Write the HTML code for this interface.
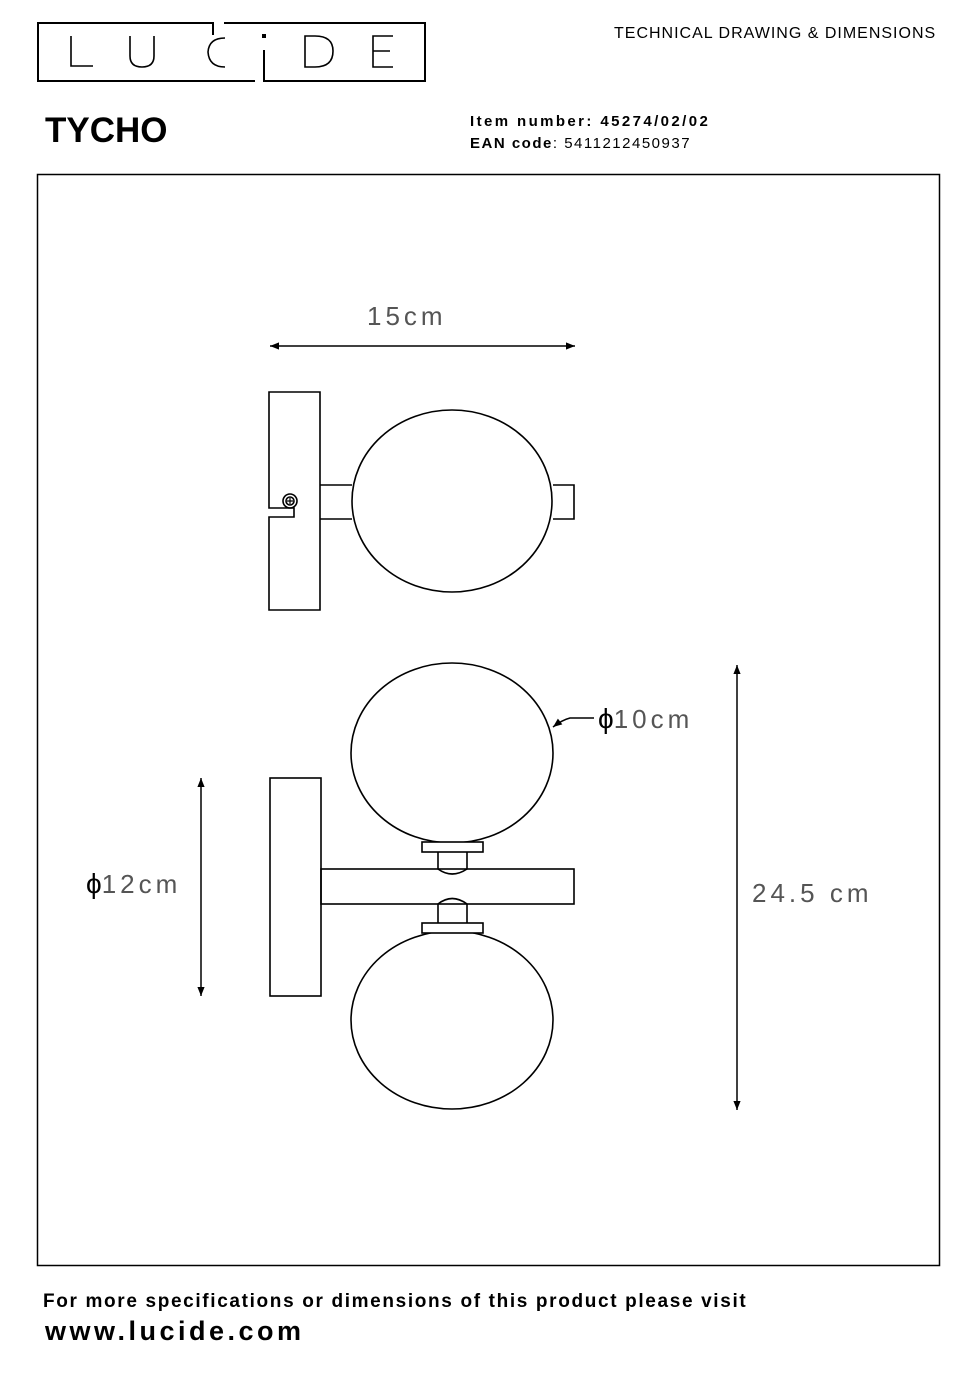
<!DOCTYPE html>
<html><head><meta charset="utf-8"><style>
html,body{margin:0;padding:0;background:#fff;}
body{width:970px;height:1374px;position:relative;overflow:hidden;font-family:"Liberation Sans",sans-serif;}
.t{position:absolute;white-space:nowrap;color:#000;}
.d{font-size:26px;color:#555;letter-spacing:4px;}
</style></head><body>
<svg width="970" height="1374" style="position:absolute;left:0;top:0" xmlns="http://www.w3.org/2000/svg">
<defs>
<marker id="a" viewBox="0 0 10 10" refX="10" refY="5" markerWidth="20" markerHeight="9" markerUnits="userSpaceOnUse" orient="auto-start-reverse"><path d="M0,1 L10,5 L0,9 Z" fill="#000"/></marker>
</defs>
<g fill="none" stroke="#000" stroke-width="2">
<path d="M213,35 L213,23 L38,23 L38,81 L255,81"/>
<path d="M224,23 L425,23 L425,81 L264,81 L264,50"/>
</g>
<g fill="none" stroke="#000" stroke-width="1.6">
<path d="M71,36 L71,66 L93,66"/>
<path d="M130,36 L130,56 Q130,67 142,67 Q154,67 154,56 L154,36"/>
<path d="M225,38 Q209,38 208,52 Q209,67 225,67"/>
<path d="M305,36 L305,67 L315,67 Q333,67 333,51 Q333,36 315,36 Z"/>
<path d="M393,36 L373,36 L373,67 L393,67 M373,51 L390,51"/>
</g>
<rect x="262" y="34" width="4" height="4" fill="#000"/>
<rect x="37.5" y="174.5" width="902" height="1091" fill="none" stroke="#000" stroke-width="1.5"/>
<g fill="none" stroke="#000" stroke-width="1.6">
<path d="M269,392 L320,392 L320,610 L269,610 L269,517 L294,517 L294,508 L269,508 Z"/>
<circle cx="290" cy="501" r="7"/>
<circle cx="290" cy="501" r="4"/>
<path d="M287,501 h6 M290,498 v6" stroke-width="1.2"/>
<path d="M320,485 L352,485 M320,519 L352,519"/>
<ellipse cx="452" cy="501" rx="100" ry="91" fill="#fff"/>
<path d="M553,485 L574,485 L574,519 L553,519"/>
<rect x="270" y="778" width="51" height="218"/>
<rect x="321" y="869" width="253" height="35"/>
<ellipse cx="452" cy="753" rx="101" ry="90"/>
<ellipse cx="452" cy="1020" rx="101" ry="89"/>
<rect x="422" y="842" width="61" height="10" fill="#fff"/>
<path d="M438,852 L438,869 Q452,879 467,869 L467,852"/>
<rect x="422" y="923" width="61" height="10" fill="#fff"/>
<path d="M438,923 L438,904 Q452,893 467,904 L467,923"/>
</g>
<g stroke="#000" stroke-width="1.5" fill="none">
<line x1="270" y1="346" x2="575" y2="346" marker-start="url(#a)" marker-end="url(#a)"/>
<line x1="737" y1="665" x2="737" y2="1110" marker-start="url(#a)" marker-end="url(#a)"/>
<line x1="201" y1="778" x2="201" y2="996" marker-start="url(#a)" marker-end="url(#a)"/>
<path d="M594,718 L570,718 Q562,720 553,727" marker-end="url(#a)"/>
</g>
</svg>
<div class="t" style="left:614px;top:25px;font-size:16px;letter-spacing:1px;">TECHNICAL DRAWING &amp; DIMENSIONS</div>
<div class="t" style="left:45px;top:111px;font-size:35px;font-weight:bold;">TYCHO</div>
<div class="t" style="left:470px;top:113px;font-size:15px;font-weight:bold;letter-spacing:2.4px;">Item number: 45274/02/02</div>
<div class="t" style="left:470px;top:135px;font-size:15px;letter-spacing:1.5px;"><b>EAN code</b>: 5411212450937</div>
<div class="t d" style="left:367px;top:301px;">15cm</div>
<div class="t d" style="left:598px;top:703px;"><span style="color:#000;font-size:28px;letter-spacing:0">ϕ</span>10cm</div>
<div class="t d" style="left:752px;top:878px;">24.5 cm</div>
<div class="t d" style="left:86px;top:868px;"><span style="color:#000;font-size:28px;letter-spacing:0">ϕ</span>12cm</div>
<div class="t" style="left:43px;top:1291px;font-size:19px;font-weight:bold;letter-spacing:1.65px;">For more specifications or dimensions of this product please visit</div>
<div class="t" style="left:45px;top:1316px;font-size:27px;font-weight:bold;letter-spacing:3.5px;">www.lucide.com</div>
</body></html>
